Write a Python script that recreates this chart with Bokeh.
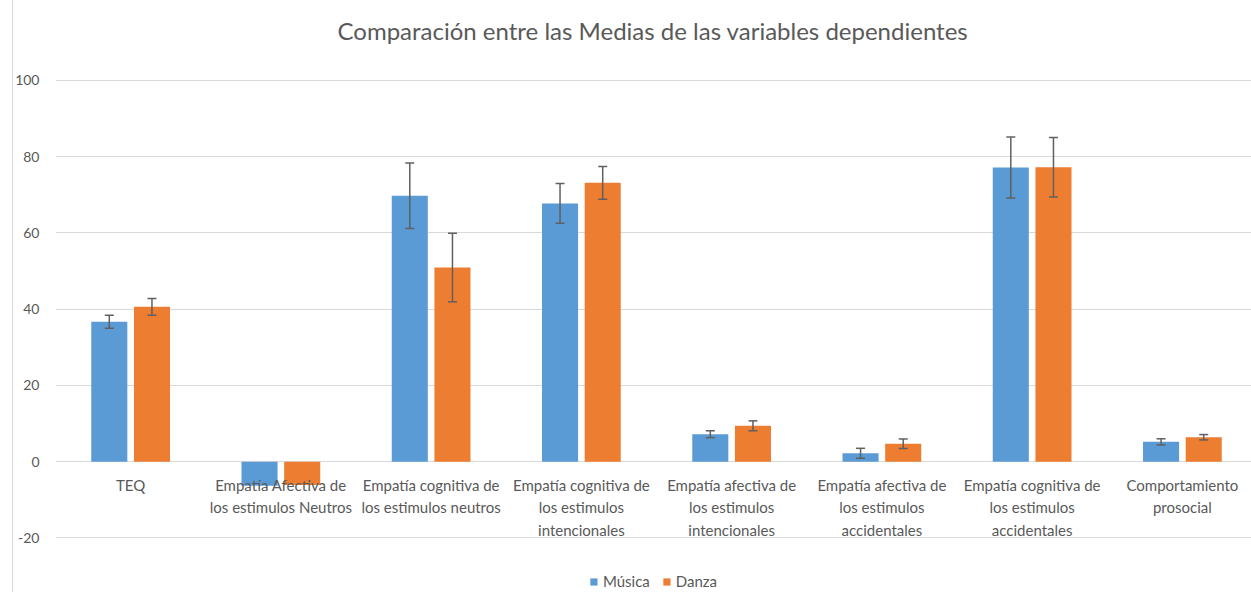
import numpy as np
from bokeh.plotting import figure
from bokeh.models import (ColumnDataSource, Range1d, FixedTicker, Whisker, TeeHead,
                          Legend, LegendItem, Label)
from bokeh.transform import dodge
from bokeh.core.properties import value
from bokeh.embed import file_html
from bokeh.resources import INLINE

# ---- data ----
title_text = "Comparación entre las Medias de las variables dependientes"
categories = [
    "TEQ",
    "Empatía Afectiva de\nlos estimulos Neutros",
    "Empatía cognitiva de\nlos estimulos neutros",
    "Empatía cognitiva de\nlos estimulos\nintencionales",
    "Empatía afectiva de\nlos estimulos\nintencionales",
    "Empatía afectiva de\nlos estimulos\naccidentales",
    "Empatía cognitiva de\nlos estimulos\naccidentales",
    "Comportamiento\nprosocial",
]
musica = [36.7, -6.3, 69.7, 67.7, 7.2, 2.2, 77.1, 5.2]
danza = [40.6, -6.1, 50.9, 73.1, 9.4, 4.7, 77.2, 6.4]
musica_err = [1.7, None, 8.6, 5.2, 0.9, 1.3, 8.0, 0.8]
danza_err = [2.2, None, 9.0, 4.3, 1.3, 1.25, 7.8, 0.7]
y_ticks = [-20, 0, 20, 40, 60, 80, 100]

BLUE = "#5B9BD5"
ORANGE = "#ED7D31"
GREY = "#595959"
FONT = "Lato"

idx = list(range(len(categories)))
m = np.array(musica, dtype=float)
d = np.array(danza, dtype=float)
me = np.array([np.nan if e is None else e for e in musica_err])
de = np.array([np.nan if e is None else e for e in danza_err])

src = ColumnDataSource(dict(
    x=idx, musica=m, danza=d,
    m_up=m + me, m_lo=m - me, d_up=d + de, d_lo=d - de,
    label=categories, zero=[0] * len(idx),
))

W, H = 1251, 592
# frame fills the full height; the range extends above 100 to leave room for the title
p = figure(width=W, height=H, output_backend="svg", toolbar_location=None,
           x_range=Range1d(-0.5, 7.46), y_range=Range1d(-34.3, 120.9),
           min_border_left=55, min_border_right=0, min_border_top=0,
           min_border_bottom=0)
p.styles = {"background": "linear-gradient(to right, #ffffff 12px, #d9d9d9 12px, "
                          "#d9d9d9 13px, #ffffff 13px)"}
p.outline_line_color = None
p.background_fill_color = "white"
p.border_fill_color = None

# title: screen units are relative to the plot frame (x from left, y from bottom)
title = Label(x=282, y=H - 30, x_units="screen", y_units="screen", text=title_text,
              text_align="left", text_baseline="middle", text_font=FONT,
              text_font_size="24px", text_color=GREY)
p.add_layout(title)

rm = p.vbar(x=dodge("x", -0.142, range=p.x_range), top="musica", bottom=0, width=0.24,
            source=src, fill_color=BLUE, line_color=None)
rd = p.vbar(x=dodge("x", 0.142, range=p.x_range), top="danza", bottom=0, width=0.24,
            source=src, fill_color=ORANGE, line_color=None)

for xoff, up, lo in ((-0.142, "m_up", "m_lo"), (0.142, "d_up", "d_lo")):
    w = Whisker(base=dodge("x", xoff, range=p.x_range), upper=up, lower=lo, source=src,
                dimension="height", line_color="#606060", line_width=1.5, level="overlay",
                upper_head=TeeHead(size=9, line_color="#606060", line_width=1.5),
                lower_head=TeeHead(size=9, line_color="#606060", line_width=1.5))
    p.add_layout(w)

p.text(x="x", y="zero", text="label", source=src, text_align="center",
       text_baseline="top", y_offset=14, text_font=value(FONT),
       text_font_size="15px", text_color=GREY, text_line_height=1.25)

p.xaxis.visible = False
p.xgrid.grid_line_color = None
p.ygrid.grid_line_color = "#d9d9d9"
p.ygrid.grid_line_width = 1.2
p.yaxis.ticker = FixedTicker(ticks=y_ticks)
p.ygrid.ticker = FixedTicker(ticks=y_ticks)
p.yaxis.major_label_overrides = {t: str(t) for t in y_ticks}
p.yaxis.axis_line_color = None
p.yaxis.major_tick_line_color = None
p.yaxis.minor_tick_line_color = None
p.yaxis.major_tick_out = 0
p.yaxis.major_tick_in = 0
p.yaxis.major_label_standoff = 16
p.yaxis.major_label_text_font = FONT
p.yaxis.major_label_text_font_size = "14px"
p.yaxis.major_label_text_color = GREY

legend = Legend(items=[LegendItem(label="Música", renderers=[rm]),
                       LegendItem(label="Danza", renderers=[rd])],
                orientation="horizontal", location="bottom_center",
                glyph_width=9, glyph_height=9, label_standoff=5, spacing=12,
                padding=0, margin=2, border_line_color=None,
                background_fill_alpha=0, label_text_font=FONT,
                label_text_font_size="15px", label_text_color=GREY)
p.add_layout(legend)

open("out.html", "w").write(file_html(p, INLINE))
